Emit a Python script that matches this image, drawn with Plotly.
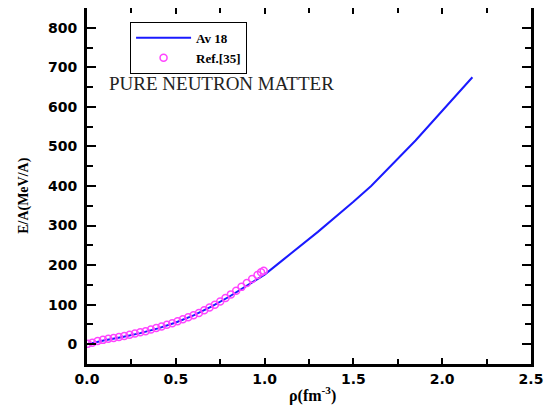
import plotly.graph_objects as go

# Av 18 curve
av18_rho = [0.0, 0.1, 0.2, 0.3, 0.4, 0.5, 0.6, 0.7, 0.8, 0.9, 1.0, 1.1, 1.3, 1.5, 1.6, 1.85, 2.0, 2.17]
av18_ea = [0, 10, 18, 28, 40, 55, 73, 95, 120, 148, 176, 212, 284, 360, 400, 515, 590, 675]

# Ref.[35] points
ref_rho = [0.005, 0.03, 0.06, 0.09, 0.12, 0.15, 0.18, 0.21, 0.24, 0.27, 0.30, 0.33, 0.36,
           0.39, 0.42, 0.45, 0.48, 0.51, 0.54, 0.57, 0.60, 0.63, 0.66, 0.69, 0.72, 0.75,
           0.78, 0.81, 0.84, 0.87, 0.90, 0.93, 0.96, 0.98, 0.995]
ref_ea = [1, 4, 8, 11, 14, 16, 18, 21, 24, 27, 30, 33, 37, 41, 45, 49, 53, 58, 63, 68,
          73, 79, 86, 93, 100, 108, 117, 126, 135, 145, 155, 165, 175, 182, 186]

x_ticks = [0.0, 0.5, 1.0, 1.5, 2.0, 2.5]
x_labels = ["0.0", "0.5", "1.0", "1.5", "2.0", "2.5"]
y_ticks = [0, 100, 200, 300, 400, 500, 600, 700, 800]

fig = go.Figure()
fig.add_trace(go.Scatter(x=av18_rho, y=av18_ea, mode="lines", name="Av 18",
                         line=dict(color="#1a1aff", width=2)))
fig.add_trace(go.Scatter(x=ref_rho, y=ref_ea, mode="markers", name="Ref.[35]",
                         marker=dict(symbol="circle-open", size=7, color="#ff44ff",
                                     line=dict(width=1.5))))

tickfont = dict(family="DejaVu Sans", size=14, color="black", weight="bold")
axis_common = dict(showgrid=False, zeroline=False, showline=True, linecolor="black",
                   linewidth=3, mirror="allticks", ticks="inside", tickcolor="black",
                   tickwidth=2, tickfont=tickfont, automargin=False)

fig.update_xaxes(range=[0, 2.5], tickvals=x_ticks, ticktext=x_labels, ticklen=6,
                 minor=dict(dtick=0.25, ticks="inside", ticklen=5, tickcolor="black", tickwidth=2),
                 **axis_common)
fig.update_yaxes(range=[-50, 850], tickvals=y_ticks, ticklen=9, ticklabelstandoff=4,
                 minor=dict(dtick=50, tick0=-50, ticks="inside", ticklen=6, tickcolor="black", tickwidth=2),
                 **axis_common)

fig.add_annotation(x=0.045, y=0.788, xref="paper", yref="paper", xanchor="left", yanchor="middle",
                   text="PURE NEUTRON MATTER", showarrow=False,
                   font=dict(family="Liberation Serif", size=19, color="#222222"))

fig.add_annotation(x=-0.142, y=0.475, xref="paper", yref="paper", xanchor="center", yanchor="middle",
                   text="E/A(MeV/A)", textangle=-90, showarrow=False,
                   font=dict(family="Liberation Serif", size=14, color="black", weight="bold"))
fig.add_annotation(x=0.509, y=-0.087, xref="paper", yref="paper", xanchor="center", yanchor="middle",
                   text="ρ(fm<sup>-3</sup>)", showarrow=False,
                   font=dict(family="Liberation Serif", size=16, color="black", weight="bold"))

fig.update_layout(
    width=549, height=399,
    margin=dict(l=79, r=26, t=0, b=43),
    paper_bgcolor="white", plot_bgcolor="white",
    showlegend=True,
    legend=dict(x=0.097, y=0.961, xanchor="left", yanchor="top",
                bordercolor="black", borderwidth=1, bgcolor="white",
                font=dict(family="Liberation Serif", size=13, color="black", weight="bold"),
                tracegroupgap=0, itemwidth=55),
)

fig.write_html("out.html")
